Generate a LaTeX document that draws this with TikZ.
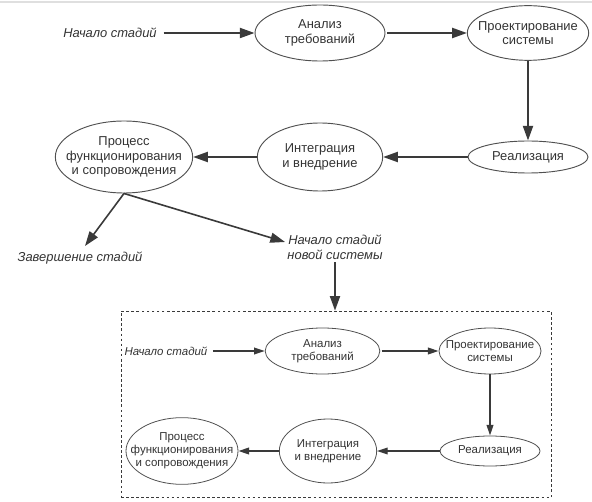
\documentclass[tikz,border=0pt]{standalone}
\usepackage{fontspec}
\setmainfont{Liberation Sans}
\usetikzlibrary{shapes.geometric,arrows.meta}
\definecolor{ink}{HTML}{3A3A3A}
\definecolor{txt}{HTML}{333333}
\definecolor{edge}{HTML}{505050}
\begin{document}
\begin{tikzpicture}[x=0.75pt,y=-0.75pt,
  bigfont/.style={font=\fontsize{9.7}{11}\selectfont, text=txt},
  smallfont/.style={font=\fontsize{8.6}{9.8}\selectfont, text=txt},
  ellbig/.style={ellipse, draw=edge, line width=0.7pt, inner sep=0pt,
    label={[bigfont, align=center]center:{#1}}},
  ellsmall/.style={ellipse, draw=edge, line width=0.6pt, inner sep=0pt,
    label={[smallfont, align=center]center:{#1}}},
  itbig/.style={bigfont, font=\fontsize{9.7}{11}\selectfont\itshape, align=center, inner sep=1pt},
  itsmall/.style={smallfont, font=\fontsize{8.6}{9.8}\selectfont\itshape, align=center, inner sep=1pt},
  arrbig/.style={draw=ink, line width=1.5pt, -{Triangle[length=11pt,width=7.5pt]}},
  arrdiag/.style={draw=ink, line width=1.2pt, -{Triangle[length=11pt,width=7.5pt]}},
  arrsmall/.style={draw=ink, line width=1.1pt, -{Triangle[length=8pt,width=5pt]}},
  frame/.style={draw=ink, line width=0.7pt, dash pattern=on 2pt off 1.8pt, inner sep=0pt}
]
\useasboundingbox (0,0) rectangle (592,502);
\coordinate (tl) at (0,2);
\coordinate (tr) at (592,2);
\draw[gray!25, line width=0.8pt] (tl) -- (tr);

% top cycle
\node[itbig] (start1) at (110,33) {Начало стадий};
\node[ellbig={Анализ\\требований}, minimum width=97.5pt, minimum height=42pt] (anal) at (320,33) {};
\node[ellbig={Проектирование\\системы}, minimum width=91pt, minimum height=41pt] (proj) at (528,33) {};
\node[ellbig={Реализация}, minimum width=90pt, minimum height=24pt] (real) at (528,157) {};
\node[ellbig={Интеграция\\и внедрение}, minimum width=94pt, minimum height=51pt] (integ) at (320,157) {};
\node[ellbig={Процесс\\функционирования\\и сопровождения}, minimum width=103pt, minimum height=54pt] (proc) at (124,157) {};
\node[itbig] (zav) at (80,258) {Завершение стадий};
\node[itbig] (new) at (335,247) {Начало стадий\\новой системы};
\coordinate (zavtip) at (85,246);
\coordinate (newtip) at (285,242);

\draw[arrbig, shorten <=4pt] (start1.east) -- (anal.west);
\draw[arrbig, shorten <=1pt] (anal.east) -- (proj.west);
\draw[arrbig] (proj.south) -- (real.north);
\draw[arrbig] (real.west) -- (integ.east);
\draw[arrbig] (integ.west) -- (proc.east);
\draw[arrdiag] (proc.south) -- (zavtip);
\draw[arrdiag] (proc.south) -- (newtip);

% frame
\node[frame, minimum width=322.5pt, minimum height=140pt] (box) at (336,404.5) {};
\draw[arrbig, shorten <=1pt] (new.south) -- (new.south |- box.north);

% inner cycle
\node[itsmall] (start2) at (166,351) {Начало стадий};
\node[ellsmall={Анализ\\требований}, minimum width=86pt, minimum height=34.5pt] (anal2) at (322.5,351) {};
\node[ellsmall={Проектирование\\системы}, minimum width=76.5pt, minimum height=34.5pt] (proj2) at (490,351) {};
\node[ellsmall={Реализация}, minimum width=75pt, minimum height=22.5pt] (real2) at (490,451) {};
\node[ellsmall={Интеграция\\и внедрение}, minimum width=73pt, minimum height=48pt] (integ2) at (328,451) {};
\node[ellsmall={Процесс\\функционирования\\и сопровождения}, minimum width=84pt, minimum height=50pt] (proc2) at (182,451) {};

\draw[arrsmall, shorten <=3pt] (start2.east) -- (anal2.west);
\draw[arrsmall, shorten <=1pt] (anal2.east) -- (proj2.west);
\draw[arrsmall] (proj2.south) -- (real2.north);
\draw[arrsmall] (real2.west) -- (integ2.east);
\draw[arrsmall] (integ2.west) -- (proc2.east);
\end{tikzpicture}
\end{document}
